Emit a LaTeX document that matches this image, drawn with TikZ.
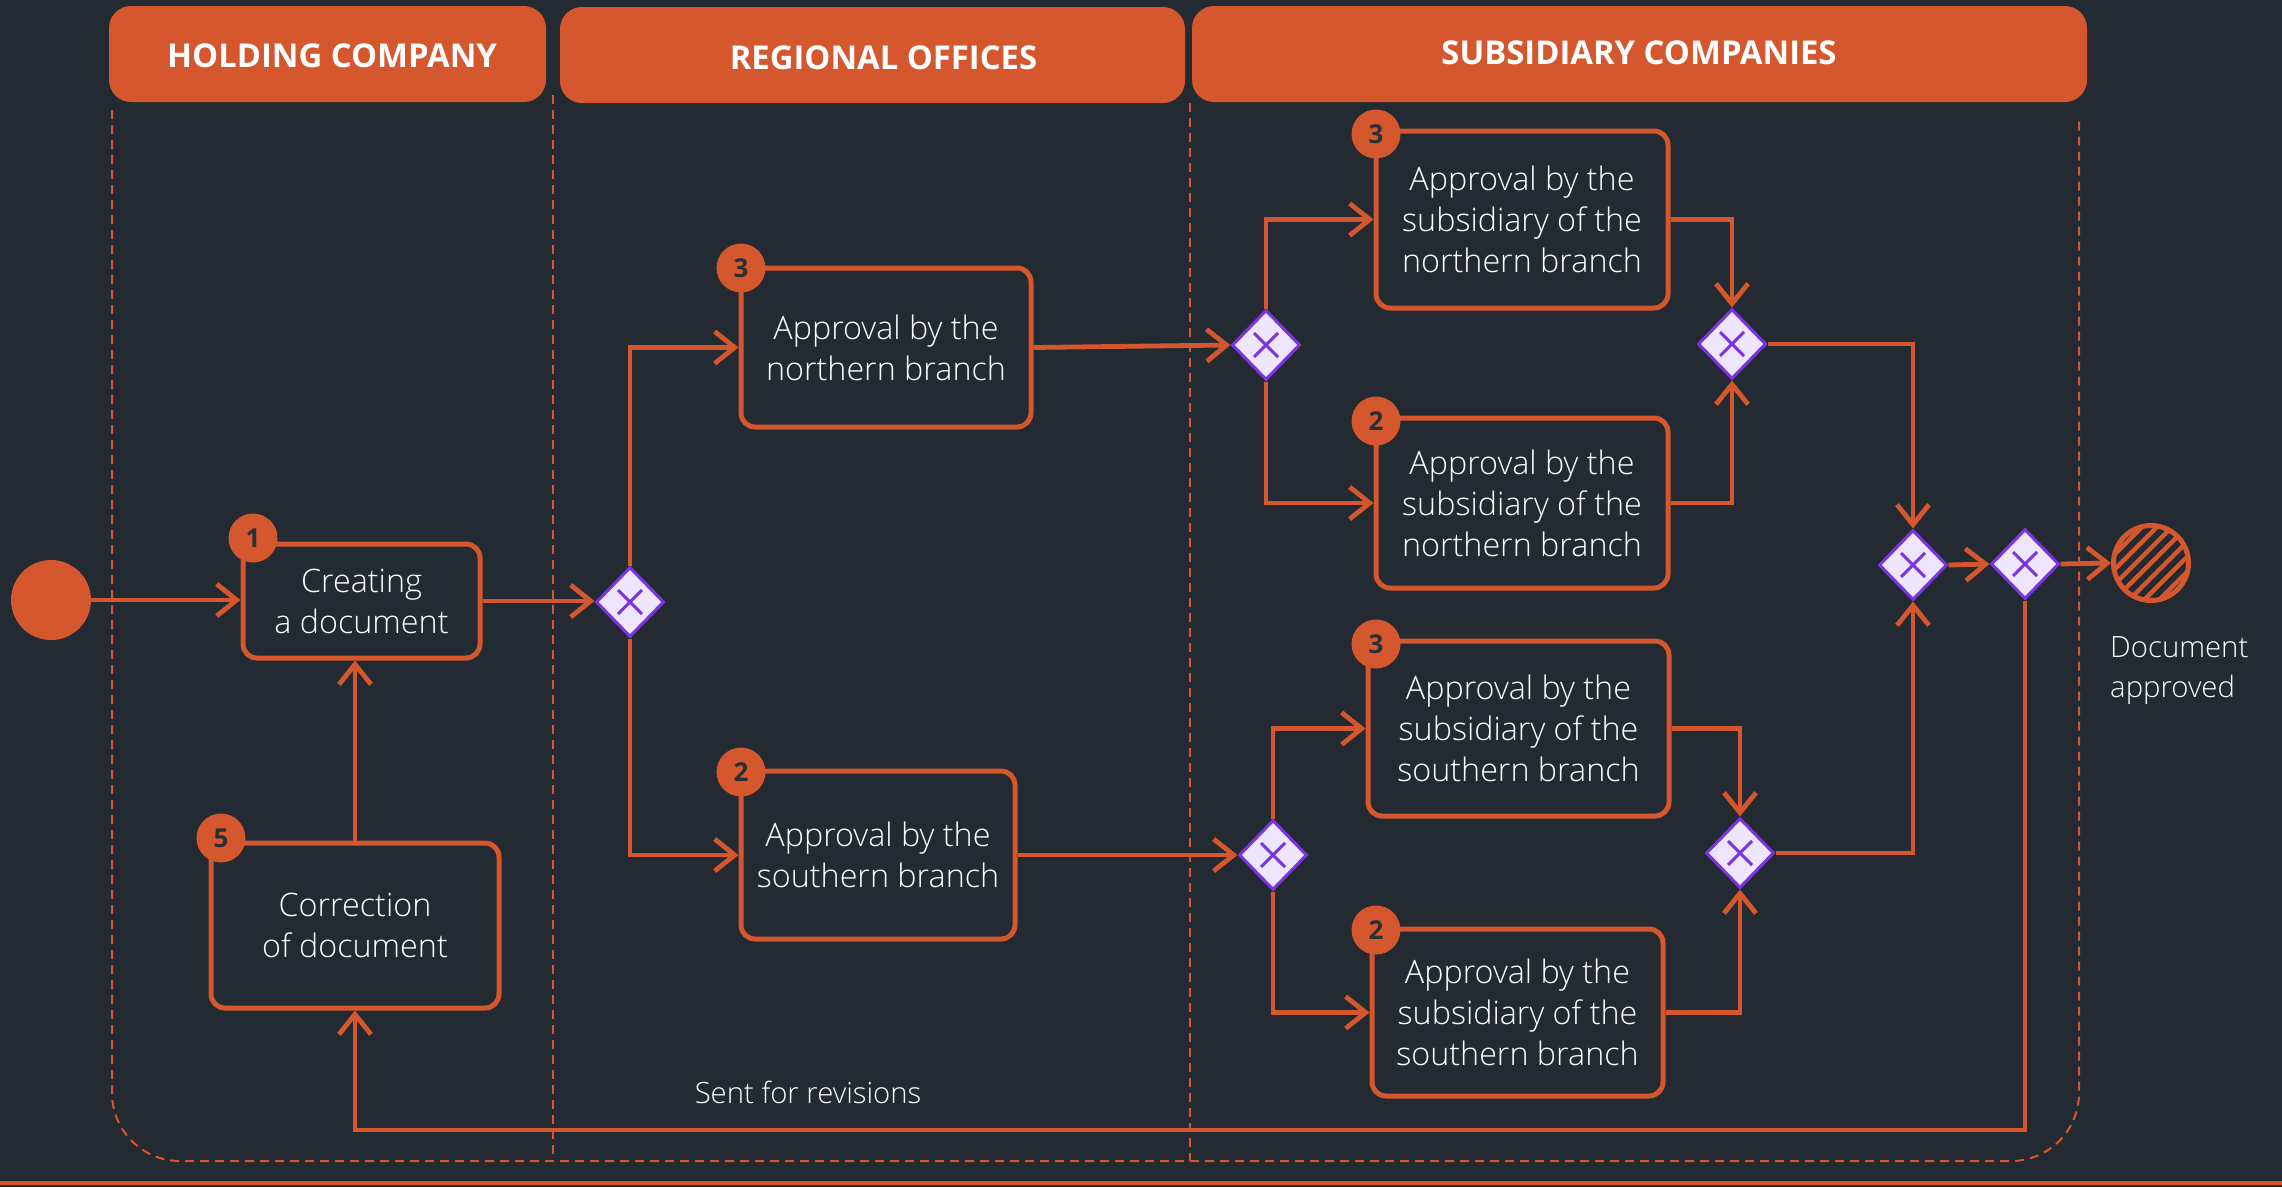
\documentclass[tikz,border=0pt]{standalone}
\usepackage{fontspec}
\setmainfont{Open Sans}
\IfFontExistsTF{Open Sans Light}{\newfontfamily\lightfont{Open Sans Light}}{\newfontfamily\lightfont{Open Sans}}
\IfFontExistsTF{Open Sans SemiBold}{\newfontfamily\headfont{Open Sans SemiBold}}{\newcommand\headfont{\bfseries}}
\usetikzlibrary{arrows.meta,shapes.geometric,calc}

\definecolor{bg}{HTML}{232A31}
\definecolor{accent}{HTML}{D4572D}
\definecolor{gatefill}{HTML}{EEE6FE}
\definecolor{gateline}{HTML}{7A34E0}
\definecolor{digit}{HTML}{2A2F36}

\tikzset{
  stepbox/.style={draw=accent, line width=5pt, rounded corners=14pt, text=white,
    align=center, inner sep=0pt, font=\lightfont\fontsize{32.3}{41}\selectfont},
  badge/.style={circle, fill=accent, minimum size=49pt, inner sep=0pt, text=digit,
    font=\bfseries\fontsize{26}{26}\selectfont},
  gate/.style={diamond, draw=gateline, fill=gatefill, line width=3pt,
    minimum width=68pt, minimum height=70pt, inner sep=0pt,
    path picture={\draw[gateline, line width=3pt]
      ([shift={(-12pt,-12pt)}]path picture bounding box.center) --
      ([shift={(12pt,12pt)}]path picture bounding box.center)
      ([shift={(-12pt,12pt)}]path picture bounding box.center) --
      ([shift={(12pt,-12pt)}]path picture bounding box.center);}},
  flow/.style={draw=accent, line width=4.8pt, -{Straight Barb[length=20pt,width=32pt]}},
  lane/.style={draw=accent, line width=2pt, dash pattern=on 9pt off 6pt},
  header/.style={fill=accent, rounded corners=22pt, inner sep=0pt},
  headtext/.style={text=white, inner sep=0pt, font=\headfont\fontsize{32.8}{33}\selectfont},
  note/.style={text=white, inner sep=0pt, font=\lightfont\fontsize{29.3}{40}\selectfont},
}

\begin{document}
\begin{tikzpicture}[x=1pt, y=-1pt]
  % canvas
  \fill[bg] (0,0) rectangle (2282,1187);
  \useasboundingbox (0,0) rectangle (2282,1187);

  % swimlane frame and separators
  \draw[lane, rounded corners=68pt] (112,110) -- (112,1161) -- (2079,1161) -- (2079,116);
  \draw[lane] (553,95) -- (553,1161);
  \draw[lane] (1190,103) -- (1190,1161);
  \draw[accent, line width=4pt] (0,1183) -- (2282,1183);

  % lane headers
  \node[header, minimum width=437pt, minimum height=96pt] (hdrA) at (327.5,54) {};
  \node[header, minimum width=625pt, minimum height=96pt] (hdrB) at (872.5,55) {};
  \node[header, minimum width=895pt, minimum height=96pt] (hdrC) at (1639.5,54) {};
  \node[headtext] (hdrAtext) at (332,55.5) {HOLDING COMPANY};
  \node[headtext] (hdrBtext) at (883.5,58) {REGIONAL OFFICES};
  \node[headtext] (hdrCtext) at (1639,53) {SUBSIDIARY COMPANIES};

  % start and end events
  \node[circle, fill=accent, minimum size=80pt, inner sep=0pt] (start) at (51,600) {};
  \node[circle, draw=accent, line width=5pt, minimum size=75pt, inner sep=0pt,
    path picture={\foreach \k in {-6,...,6}
      \draw[accent, line width=4.5pt]
        ([shift={(\k*15pt-60pt,-60pt)}]path picture bounding box.center) -- ++(120pt,120pt);}]
    (finish) at (2151,563) {};
  \node[note, anchor=west, align=left] (finishtext) at (2110,671) {Document\\approved};

  % tasks
  \node[stepbox, minimum width=237pt, minimum height=114pt] (create) at (361.5,601) {Creating\\a document};
  \node[stepbox, minimum width=288pt, minimum height=165pt] (correct) at (355,925.5) {Correction\\of document};
  \node[stepbox, minimum width=290pt, minimum height=159pt] (regN) at (886,347.5) {Approval by the\\northern branch};
  \node[stepbox, minimum width=274pt, minimum height=168pt] (regS) at (878,855) {Approval by the\\southern branch};
  \node[stepbox, minimum width=292pt, minimum height=177pt] (subNa) at (1522,219.5) {Approval by the\\subsidiary of the\\northern branch};
  \node[stepbox, minimum width=292pt, minimum height=170pt] (subNb) at (1522,503) {Approval by the\\subsidiary of the\\northern branch};
  \node[stepbox, minimum width=301pt, minimum height=175pt] (subSa) at (1518.5,728.5) {Approval by the\\subsidiary of the\\southern branch};
  \node[stepbox, minimum width=291pt, minimum height=167pt] (subSb) at (1517.5,1012.5) {Approval by the\\subsidiary of the\\southern branch};

  % step numbers
  \node[badge] (bCreate) at (253,538) {1};
  \node[badge] (bCorrect) at (221,838) {5};
  \node[badge] (bRegN) at (741,268) {3};
  \node[badge] (bRegS) at (741,772) {2};
  \node[badge] (bSubNa) at (1376,134) {3};
  \node[badge] (bSubNb) at (1376,421) {2};
  \node[badge] (bSubSa) at (1376,644) {3};
  \node[badge] (bSubSb) at (1376,930) {2};

  % gateways
  \node[gate] (gSplit) at (630,602) {};
  \node[gate] (gNa) at (1266,345) {};
  \node[gate] (gNb) at (1732,344) {};
  \node[gate] (gSa) at (1273,855) {};
  \node[gate] (gSb) at (1740,853) {};
  \node[gate] (gJoin) at (1913,565) {};
  \node[gate] (gEnd) at (2025,564) {};

  % sequence flows
  \draw[flow] (start.east) -- (start.east -| create.west);
  \draw[flow] (create.east) -- (create.east -| gSplit.west);
  \draw[flow] (gSplit.north) |- (regN.west);
  \draw[flow] (gSplit.south) |- (regS.west);
  \draw[flow] (regN.east) -- (gNa.west);
  \draw[flow] (regS.east) -- (gSa.west);
  \draw[flow] (gNa.north) |- (subNa.west);
  \draw[flow] (gNa.south) |- (subNb.west);
  \draw[flow] (subNa.east) -| (gNb.north);
  \draw[flow] (subNb.east) -| (gNb.south);
  \draw[flow] (gSa.north) |- (subSa.west);
  \draw[flow] (gSa.south) |- (subSb.west);
  \draw[flow] (subSa.east) -| (gSb.north);
  \draw[flow] (subSb.east) -| (gSb.south);
  \draw[flow] (gNb.east) -| (gJoin.north);
  \draw[flow] (gSb.east) -| (gJoin.south);
  \draw[flow] (gJoin.east) -- (gEnd.west);
  \draw[flow] (gEnd.east) -- (finish.west);
  \coordinate (revturn) at (355,1130);
  \draw[flow] (gEnd.south) |- (revturn) -- (correct.south);
  \draw[flow] (correct.north) -- (correct.north |- create.south);
  \node[note] (revtext) at (808,1092) {Sent for revisions};
\end{tikzpicture}
\end{document}
